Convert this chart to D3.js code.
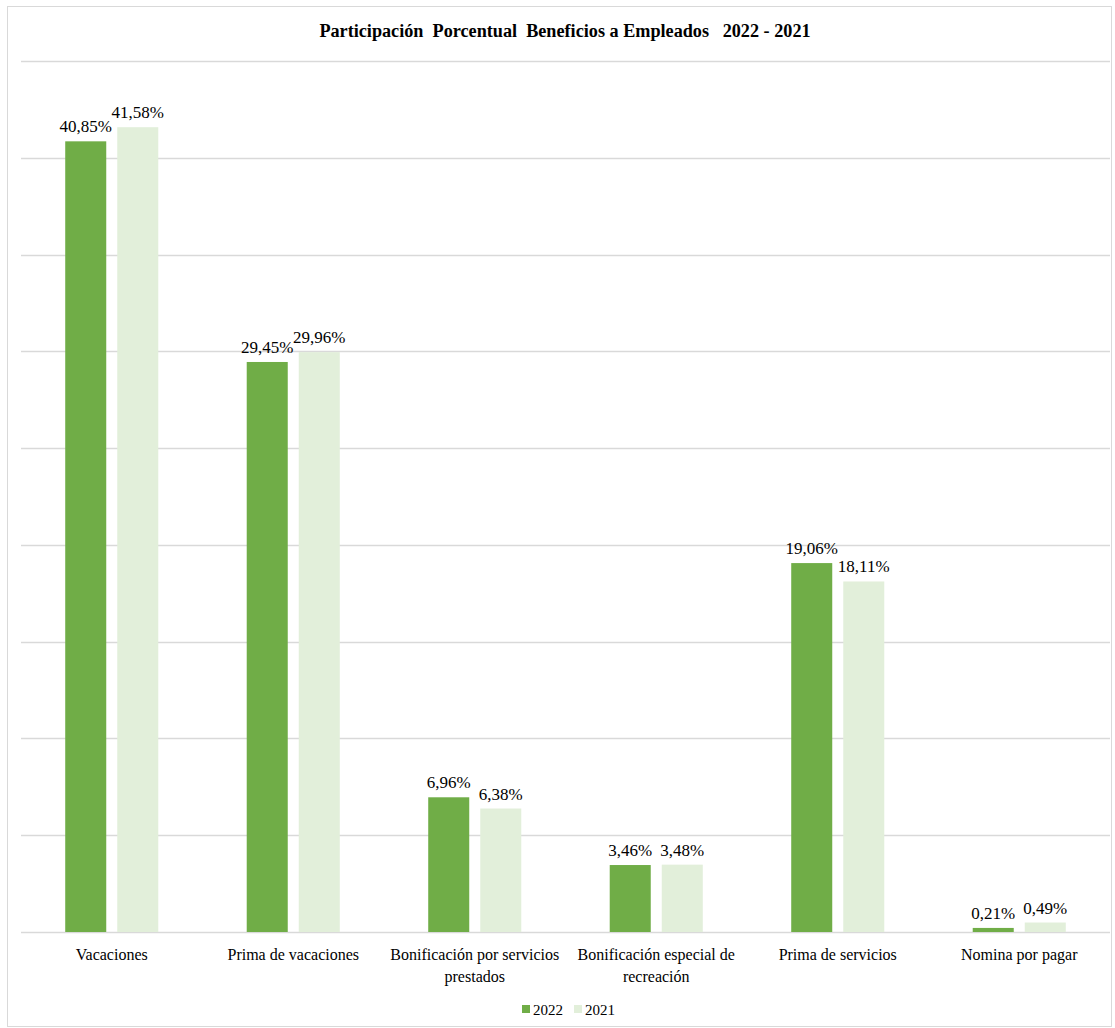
<!DOCTYPE html>
<html>
<head>
<meta charset="utf-8">
<script src="https://cdn.jsdelivr.net/npm/d3@7"></script>
<style>
  html, body { margin: 0; padding: 0; background: #fff; }
  svg { display: block; }
</style>
</head>
<body>
<svg id="chart" width="1115" height="1028" font-family="'Liberation Serif', 'Times New Roman', Tinos, 'DejaVu Serif', serif"></svg>
<script>
const categories = [
  ["Vacaciones"],
  ["Prima de vacaciones"],
  ["Bonificación por servicios", "prestados"],
  ["Bonificación especial de", "recreación"],
  ["Prima de servicios"],
  ["Nomina por pagar"]
];
const seriesNames = ["2022", "2021"];
const values2022 = [40.85, 29.45, 6.96, 3.46, 19.06, 0.21];
const values2021 = [41.58, 29.96, 6.38, 3.48, 18.11, 0.49];
const labels2022 = ["40,85%", "29,45%", "6,96%", "3,46%", "19,06%", "0,21%"];
const labels2021 = ["41,58%", "29,96%", "6,38%", "3,48%", "18,11%", "0,49%"];
const yTicks = [0, 5, 10, 15, 20, 25, 30, 35, 40, 45];
const colors = ["#70ad47", "#e2efda"];
const titleText = "Participación  Porcentual  Beneficios a Empleados   2022 - 2021";

(function () {
const FONT = "'Liberation Serif', 'Times New Roman', Tinos, 'DejaVu Serif', serif";
const svg = d3.select("#chart");

// outer border
svg.append("rect").attr("x", 7.5).attr("y", 6.5).attr("width", 1104).attr("height", 1020)
  .attr("fill", "none").attr("stroke", "#d9d9d9").attr("stroke-width", 1);

const mLeft = 21, mRight = 1110, mTop = 61, mBottom = 932;
const idx = categories.map((d, i) => i);
const x0 = d3.scaleBand().domain(idx).range([mLeft, mRight]).padding(0);
const x1 = d3.scaleBand().domain(seriesNames).range([0, x0.bandwidth()])
  .paddingInner(11 / 52).paddingOuter(0.85);
const y = d3.scaleLinear().domain([0, 45]).range([mBottom, mTop]);

// gridlines
svg.append("g").selectAll("line").data(yTicks).join("line")
  .attr("x1", mLeft).attr("x2", mRight)
  .attr("y1", d => Math.round(y(d)) + 0.5).attr("y2", d => Math.round(y(d)) + 0.5)
  .attr("stroke", "#d9d9d9").attr("stroke-width", 1.5);

// title
svg.append("text").attr("x", 565).attr("y", 37).attr("text-anchor", "middle")
  .style("font-family", FONT)
  .attr("font-size", 18.2).attr("font-weight", "bold").attr("fill", "#000")
  .style("white-space", "pre").text(titleText);

const data = idx.map(i => ({
  i,
  vals: [
    { s: "2022", v: values2022[i], lab: labels2022[i], c: colors[0] },
    { s: "2021", v: values2021[i], lab: labels2021[i], c: colors[1] }
  ]
}));

const groups = svg.append("g").selectAll("g").data(data).join("g")
  .attr("transform", d => `translate(${x0(d.i)},0)`);

groups.selectAll("rect").data(d => d.vals).join("rect")
  .attr("x", d => x1(d.s)).attr("width", x1.bandwidth())
  .attr("y", d => y(d.v)).attr("height", d => mBottom - y(d.v))
  .attr("fill", d => d.c);

groups.selectAll("text.lab").data(d => d.vals).join("text").attr("class", "lab")
  .style("font-family", FONT)
  .attr("x", d => x1(d.s) + x1.bandwidth() / 2)
  .attr("y", d => y(d.v) - 9)
  .attr("text-anchor", "middle").attr("font-size", 17).attr("fill", "#000")
  .text(d => d.lab);

// category labels
const catG = svg.append("g").selectAll("text").data(idx).join("text")
  .style("font-family", FONT)
  .attr("x", i => x0(i) + x0.bandwidth() / 2)
  .attr("y", 960)
  .attr("text-anchor", "middle").attr("font-size", 16).attr("fill", "#000");
catG.selectAll("tspan").data(i => categories[i].map(t => ({ t, i }))).join("tspan")
  .attr("x", d => x0(d.i) + x0.bandwidth() / 2)
  .attr("dy", (d, j) => j === 0 ? 0 : 22)
  .text(d => d.t);

// legend
const legendItems = [{ s: "2022", c: colors[0], x: 522 }, { s: "2021", c: colors[1], x: 574 }];
const lg = svg.append("g").selectAll("g").data(legendItems).join("g");
lg.append("rect").attr("x", d => d.x).attr("y", 1005).attr("width", 8).attr("height", 8).attr("fill", d => d.c);
lg.append("text").style("font-family", FONT).attr("x", d => d.x + 11).attr("y", 1015).attr("font-size", 15).attr("fill", "#000").text(d => d.s);
})();
</script>
</body>
</html>
